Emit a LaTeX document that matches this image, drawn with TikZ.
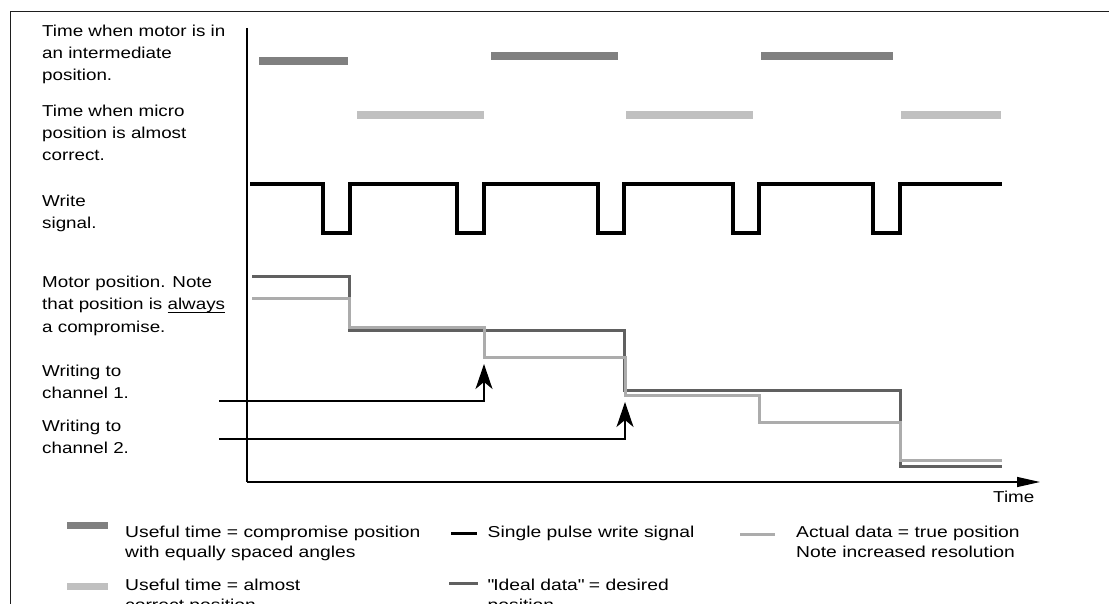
\documentclass[tikz,border=0pt]{standalone}
\usepackage{fontspec}
\setmainfont[FakeStretch=1.19]{Liberation Sans}
\newfontfamily\legfont[FakeStretch=1.22]{Liberation Sans}
\usetikzlibrary{arrows.meta}
\definecolor{bardark}{RGB}{128,128,128}
\definecolor{barlight}{RGB}{192,192,192}
\definecolor{idealc}{RGB}{96,96,96}
\definecolor{actualc}{RGB}{172,172,172}
\definecolor{framec}{RGB}{30,30,30}
\newcommand\myul[1]{\setbox0\hbox{#1}\rlap{\rule[-3.4pt]{\wd0}{1pt}}\box0}
\begin{document}
\begin{tikzpicture}[x=1pt,y=-1pt,
  txt/.style={anchor=north west, inner sep=0pt, align=left, font=\fontsize{15.8}{22.3}\selectfont},
  legtxt/.style={anchor=north west, inner sep=0pt, align=left, font=\legfont\fontsize{15.8}{20.5}\selectfont},
  darkbar/.style={line width=8pt, bardark},
  lightbar/.style={line width=8pt, barlight},
  writesig/.style={line width=3.5pt, black, line join=miter},
  ideal/.style={line width=3pt, idealc, line join=miter},
  actual/.style={line width=3pt, actualc, line join=miter},
  thin/.style={line width=1.3pt, black},
  chanarrow/.style={line width=1.4pt, black, -{Stealth[length=25pt,width=17pt,inset=7pt]}},
  timearrow/.style={line width=1.3pt, black, -{Triangle[length=23pt,width=10pt]}}]
\clip (0,0) rectangle (1109,604);
\fill[white] (0,0) rectangle (1109,604);
% frame
\draw[line width=1pt, framec] (10,620) -- (10,12) -- (1120,12);
% axes
\coordinate (ytop) at (247,28);
\coordinate (orig) at (247,482);
\coordinate (xend) at (1040,482);
\draw[thin] (ytop) -- (orig);
\draw[timearrow] (orig) -- (xend);
\node[txt] (timelbl) at (993,491) {Time};
% left labels
\node[txt] (lab1) at (42,24.4) {Time when motor is in\\an intermediate\\position.};
\node[txt] (lab2) at (42,104.4) {Time when micro\\position is almost\\correct.};
\node[txt] (lab3) at (42,194.7) {Write\\signal.};
\node[txt] (lab4) at (42,276) {Motor position. Note\\that position is \myul{always}\\a compromise.};
\node[txt] (lab5) at (42,364.7) {Writing to\\channel 1.};
\node[txt] (lab6) at (42,419.4) {Writing to\\channel 2.};
% useful time bars
\draw[darkbar] (259,61) -- (348,61);
\draw[darkbar] (491,56) -- (618,56);
\draw[darkbar] (761,56) -- (893,56);
\draw[lightbar] (357,115) -- (484,115);
\draw[lightbar] (626,115) -- (753,115);
\draw[lightbar] (901,115) -- (1001,115);
% write signal
\draw[writesig] (250,184) -- (323,184) -- (323,233) -- (350,233) -- (350,184)
  -- (457,184) -- (457,233) -- (484,233) -- (484,184)
  -- (598,184) -- (598,233) -- (624,233) -- (624,184)
  -- (733,184) -- (733,233) -- (759,233) -- (759,184)
  -- (873,184) -- (873,233) -- (900,233) -- (900,184) -- (1002,184);
% motor position
\draw[ideal] (252,277) -- (349,277) -- (349,330.5) -- (624,330.5) -- (624,390.5)
  -- (900,390.5) -- (900,466) -- (1002,466);
\draw[actual] (252,299) -- (349.5,299) -- (349.5,327) -- (484,327) -- (484,357)
  -- (625,357) -- (625,395) -- (759,395) -- (759,422) -- (900,422) -- (900,460) -- (1002,460);
% writing arrows
\coordinate (c1s) at (219,401);
\coordinate (c1e) at (484,364);
\coordinate (c2s) at (219,439);
\coordinate (c2e) at (625,402);
\draw[chanarrow] (c1s) -| (c1e);
\draw[chanarrow] (c2s) -| (c2e);
% legend
\draw[line width=7pt, bardark] (67,525.5) -- (108,525.5);
\node[legtxt] (leg1) at (125,525.5) {Useful time = compromise position\\with equally spaced angles};
\draw[line width=7pt, barlight] (67,586) -- (108,586);
\node[legtxt] (leg2) at (125,578.5) {Useful time = almost\\correct position};
\draw[line width=3pt, black] (451,533.6) -- (477,533.6);
\node[legtxt] (leg3) at (487.5,525.5) {Single pulse write signal};
\draw[line width=3pt, idealc] (449,583) -- (478,583);
\node[legtxt] (leg4) at (487.5,578.5) {\textquotedbl Ideal data\textquotedbl{} = desired\\position};
\draw[line width=3pt, actualc] (740,534) -- (775,534);
\node[legtxt] (leg5) at (796,525.5) {Actual data = true position\\Note increased resolution};
\end{tikzpicture}
\end{document}
